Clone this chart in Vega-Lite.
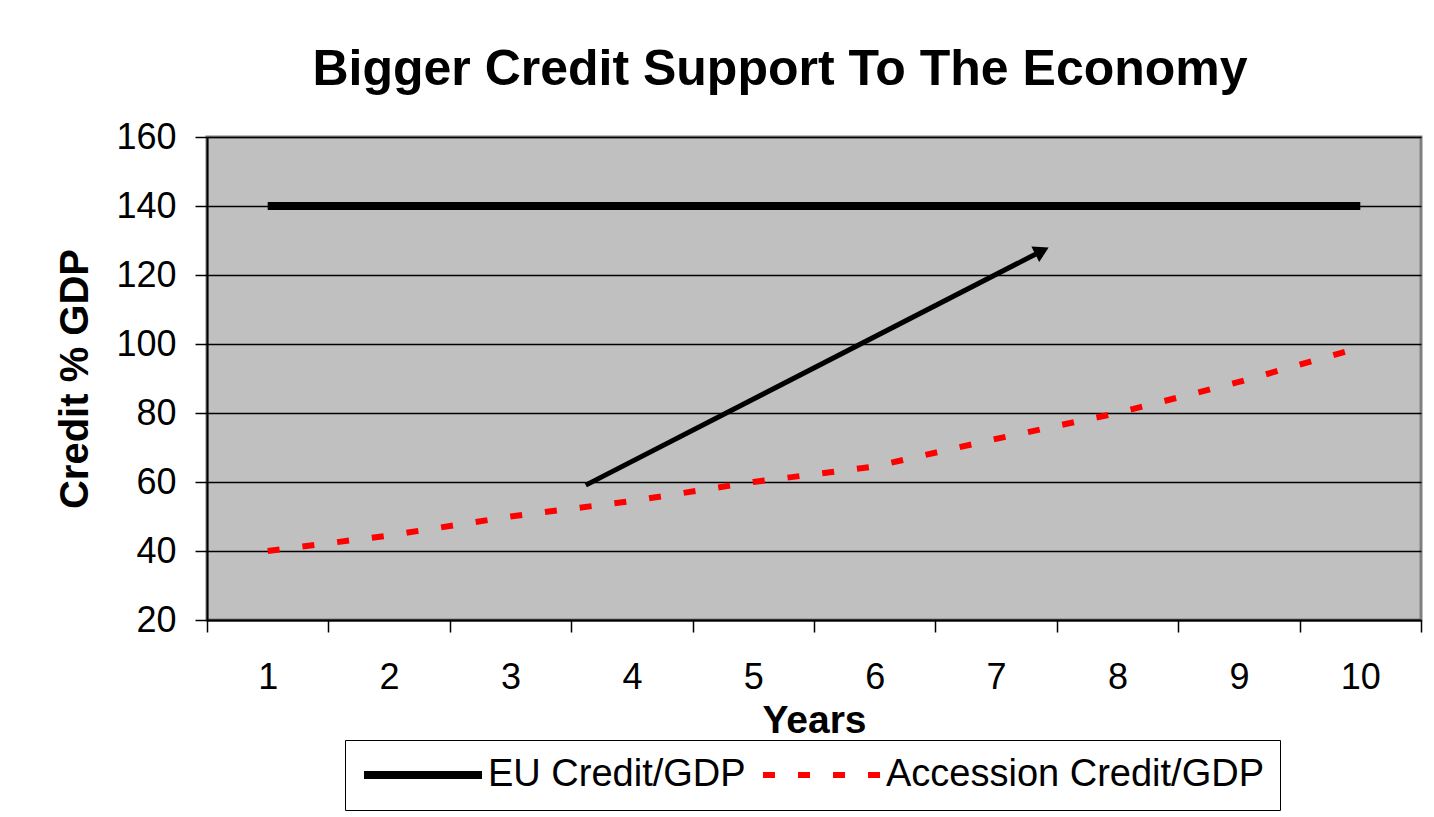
{
  "$schema": "https://vega.github.io/schema/vega-lite/v6.json",
  "width": 1214,
  "height": 483,
  "autosize": {"type": "none"},
  "padding": {"left": 207, "top": 137, "right": 13, "bottom": 197},
  "background": "white",
  "title": {
    "text": "Bigger Credit Support To The Economy",
    "font": "Liberation Sans",
    "fontSize": 50,
    "fontWeight": "bold",
    "color": "black",
    "anchor": "middle",
    "offset": 24,
    "dx": -34
  },
  "config": {
    "view": {"fill": "#C0C0C0", "stroke": "#808080", "strokeWidth": 3},
    "axis": {
      "labelFont": "Liberation Sans",
      "titleFont": "Liberation Sans",
      "labelColor": "black",
      "titleColor": "black",
      "domainColor": "black",
      "tickColor": "black",
      "domainWidth": 2,
      "tickWidth": 1.5
    }
  },
  "datasets": {
    "series": [
      {"year": 1, "value": 140, "series": "EU Credit/GDP"},
      {"year": 2, "value": 140, "series": "EU Credit/GDP"},
      {"year": 3, "value": 140, "series": "EU Credit/GDP"},
      {"year": 4, "value": 140, "series": "EU Credit/GDP"},
      {"year": 5, "value": 140, "series": "EU Credit/GDP"},
      {"year": 6, "value": 140, "series": "EU Credit/GDP"},
      {"year": 7, "value": 140, "series": "EU Credit/GDP"},
      {"year": 8, "value": 140, "series": "EU Credit/GDP"},
      {"year": 9, "value": 140, "series": "EU Credit/GDP"},
      {"year": 10, "value": 140, "series": "EU Credit/GDP"},
      {"year": 1, "value": 40, "series": "Accession Credit/GDP"},
      {"year": 2, "value": 44.5, "series": "Accession Credit/GDP"},
      {"year": 3, "value": 50, "series": "Accession Credit/GDP"},
      {"year": 4, "value": 54.5, "series": "Accession Credit/GDP"},
      {"year": 5, "value": 60, "series": "Accession Credit/GDP"},
      {"year": 6, "value": 64.5, "series": "Accession Credit/GDP"},
      {"year": 7, "value": 72.5, "series": "Accession Credit/GDP"},
      {"year": 8, "value": 80, "series": "Accession Credit/GDP"},
      {"year": 9, "value": 89, "series": "Accession Credit/GDP"},
      {"year": 10, "value": 99, "series": "Accession Credit/GDP"}
    ],
    "arrow": [
      {"year": 3.62, "value": 59.1},
      {"year": 7.378, "value": 127}
    ],
    "arrowhead": [
      {"year": 7.378, "value": 127}
    ]
  },
  "layer": [
    {
      "data": {"name": "series"},
      "mark": {"type": "line", "strokeCap": "butt"},
      "encoding": {
        "x": {
          "field": "year",
          "type": "quantitative",
          "scale": {"domain": [0.5, 10.5], "nice": false, "zero": false},
          "axis": {
            "values": [0.5, 1.5, 2.5, 3.5, 4.5, 5.5, 6.5, 7.5, 8.5, 9.5, 10.5],
            "labelExpr": "datum.value < 10 ? format(datum.value + 0.5, 'd') : ''",
            "labelOffset": 60.7,
            "labelFlush": false,
            "labelOverlap": false,
            "labelBound": false,
            "grid": false,
            "tickSize": 12,
            "labelFontSize": 36,
            "labelPadding": 28,
            "title": "Years",
            "titleFontSize": 39,
            "titleFontWeight": "bold",
            "titlePadding": 6
          }
        },
        "y": {
          "field": "value",
          "type": "quantitative",
          "scale": {"domain": [20, 160], "nice": false, "zero": false},
          "axis": {
            "values": [20, 40, 60, 80, 100, 120, 140, 160],
            "grid": true,
            "gridColor": "black",
            "gridWidth": 1.5,
            "tickSize": 12,
            "labelFontSize": 36,
            "labelPadding": 19,
            "title": "Credit % GDP",
            "titleFontSize": 40,
            "titleFontWeight": "bold",
            "titlePadding": 20
          }
        },
        "color": {
          "field": "series",
          "type": "nominal",
          "scale": {"domain": ["EU Credit/GDP", "Accession Credit/GDP"], "range": ["black", "#FF0000"]},
          "legend": {
            "orient": "none",
            "legendX": 138,
            "legendY": 603,
            "direction": "horizontal",
            "title": null,
            "padding": 15,
            "clipHeight": 40,
            "strokeColor": "black",
            "fillColor": "white",
            "labelFont": "Liberation Sans",
            "labelFontSize": 38,
            "labelColor": "black",
            "labelLimit": 1000,
            "labelOffset": 2,
            "columnPadding": 14,
            "symbolType": "stroke",
            "symbolSize": 13924,
            "symbolStrokeWidth": 8
          }
        },
        "strokeDash": {
          "field": "series",
          "type": "nominal",
          "scale": {"domain": ["EU Credit/GDP", "Accession Credit/GDP"], "range": [[1, 0], [12, 23]]}
        },
        "strokeWidth": {
          "field": "series",
          "type": "nominal",
          "scale": {"domain": ["EU Credit/GDP", "Accession Credit/GDP"], "range": [8, 6]}
        }
      }
    },
    {
      "data": {"name": "arrow"},
      "mark": {"type": "line", "color": "black", "strokeWidth": 5},
      "encoding": {
        "x": {"field": "year", "type": "quantitative"},
        "y": {"field": "value", "type": "quantitative"}
      }
    },
    {
      "data": {"name": "arrowhead"},
      "mark": {"type": "point", "shape": "triangle-up", "filled": true, "color": "black", "opacity": 1, "size": 300, "angle": 63},
      "encoding": {
        "x": {"field": "year", "type": "quantitative"},
        "y": {"field": "value", "type": "quantitative"}
      }
    }
  ]
}
